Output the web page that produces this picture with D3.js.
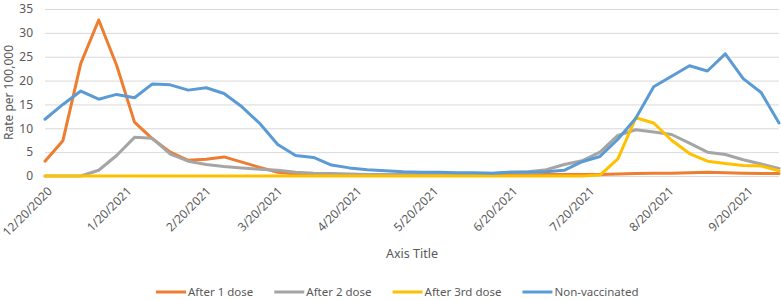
<!DOCTYPE html>
<html>
<head>
<meta charset="utf-8">
<script src="https://cdn.jsdelivr.net/npm/d3@7"></script>
<style>
  body { margin: 0; background: #fff; }
  text { font-family: "Noto Sans", "Open Sans", sans-serif; fill: #595959; }
</style>
</head>
<body>
<div id="chart"></div>
<script>
// Data ----------------------------------------------------------------------------------------------------------------
const startDate = "12/20/2020";
const weekCount = 42;

const afterOneDose = [3.1, 7.4, 23.6, 32.7, 23.2, 11.3, 7.8, 5.0, 3.3, 3.5, 4.0, 2.9, 1.8, 0.8, 0.4, 0.3,
  0.3, 0.2, 0.2, 0.2, 0.2, 0.2, 0.2, 0.2, 0.2, 0.2, 0.2, 0.2, 0.3, 0.3, 0.3, 0.3,
  0.4, 0.5, 0.6, 0.6, 0.7, 0.8, 0.7, 0.6, 0.5, 0.5];
const afterTwoDose = [0, 0, 0, 1.2, 4.3, 8.1, 7.9, 4.6, 3.1, 2.4, 2.0, 1.7, 1.4, 1.2, 0.8, 0.6,
  0.5, 0.4, 0.3, 0.3, 0.3, 0.3, 0.3, 0.3, 0.4, 0.5, 0.8, 0.9, 1.3, 2.4, 3.2, 5.0,
  8.5, 9.7, 9.2, 8.7, 6.9, 5.0, 4.5, 3.4, 2.5, 1.6];
const afterThirdDose = [0, 0, 0, 0, 0, 0, 0, 0, 0, 0, 0, 0, 0, 0, 0, 0,
  0, 0, 0, 0, 0, 0, 0, 0, 0, 0, 0, 0, 0, 0, 0, 0.2,
  3.6, 12.2, 11.1, 7.5, 4.7, 3.1, 2.6, 2.2, 2.1, 1.1];
const nonVaccinated = [11.9, 15.0, 17.8, 16.1, 17.1, 16.4, 19.3, 19.1, 18.0, 18.5, 17.3, 14.5, 11.0, 6.6, 4.3, 3.9,
  2.3, 1.7, 1.3, 1.1, 0.9, 0.8, 0.8, 0.7, 0.7, 0.6, 0.8, 0.8, 0.9, 1.2, 3.0, 4.1,
  7.7, 12.1, 18.7, 20.9, 23.1, 22.0, 25.6, 20.4, 17.5, 11.1];

const seriesNames = ["After 1 dose", "After 2 dose", "After 3rd dose", "Non-vaccinated"];
const seriesColors = ["#ED7D31", "#A5A5A5", "#FFC000", "#5B9BD5"];
const tickLabels = ["12/20/2020", "1/20/2021", "2/20/2021", "3/20/2021", "4/20/2021",
  "5/20/2021", "6/20/2021", "7/20/2021", "8/20/2021", "9/20/2021"];
const yTicks = [0, 5, 10, 15, 20, 25, 30, 35];

// Canvas --------------------------------------------------------------------------------------------------------------
const canvasWidth = 781;
const canvasHeight = 300;
const leftPadding = 45;
const rightPadding = 2;
const topPadding = 9;
const plotBottom = 176;

const parseDate = d3.timeParse("%m/%d/%Y");
const firstDate = parseDate(startDate);
const dates = d3.range(weekCount).map(i => d3.timeDay.offset(firstDate, 7 * i));
const allSeries = [afterOneDose, afterTwoDose, afterThirdDose, nonVaccinated];

const svg = d3.select("#chart")
  .append("svg")
  .attr("width", canvasWidth)
  .attr("height", canvasHeight);

const xScale = d3.scaleTime()
  .domain(d3.extent(dates))
  .range([leftPadding, canvasWidth - rightPadding]);
const yScale = d3.scaleLinear()
  .domain([0, 35])
  .range([plotBottom, topPadding]);

// Grid and y axis
const yAxis = svg.append("g")
  .attr("transform", "translate(" + leftPadding + ",0)")
  .call(d3.axisLeft(yScale).tickValues(yTicks).tickSize(-(canvasWidth - leftPadding - rightPadding)).tickPadding(12));
yAxis.select(".domain").remove();
yAxis.selectAll("line").style("stroke", "#D9D9D9").style("stroke-width", 1);
yAxis.selectAll("text").style("font-size", "12px").style("fill", "#595959");

svg.append("text")
  .text("Rate per 100,000")
  .attr("transform", "translate(13," + ((plotBottom + topPadding) / 2) + ") rotate(-90)")
  .style("text-anchor", "middle")
  .style("font-size", "12px");

// x tick labels (rotated)
svg.append("g")
  .selectAll("text")
  .data(tickLabels)
  .join("text")
  .text(d => d)
  .attr("transform", d => "translate(" + (xScale(parseDate(d)) + 5) + "," + (plotBottom + 13) + ") rotate(-45)")
  .attr("dy", "0.35em")
  .style("text-anchor", "end")
  .style("font-size", "12px");

svg.append("text")
  .text("Axis Title")
  .attr("x", (leftPadding + canvasWidth) / 2 - 1)
  .attr("y", 258)
  .style("text-anchor", "middle")
  .style("font-size", "12.5px");

// Lines
const line = d3.line()
  .x((d, i) => xScale(dates[i]))
  .y(d => yScale(d));

svg.append("g")
  .selectAll("path")
  .data(allSeries)
  .join("path")
  .attr("d", d => line(d))
  .style("fill", "none")
  .style("stroke", (d, i) => seriesColors[i])
  .style("stroke-width", 3)
  .style("stroke-linejoin", "round")
  .style("stroke-linecap", "round");

// Legend
const legendGroup = svg.append("g").attr("transform", "translate(156,292)");
let legendX = 0;
seriesNames.forEach(function(name, i) {
  const item = legendGroup.append("g").attr("transform", "translate(" + legendX + ",0)");
  item.append("line")
    .attr("x1", 0).attr("x2", 30)
    .attr("y1", 0).attr("y2", 0)
    .style("stroke", seriesColors[i])
    .style("stroke-width", 3);
  const label = item.append("text")
    .text(name)
    .attr("x", 32)
    .attr("y", 0)
    .attr("dy", "0.35em")
    .style("font-size", "11.5px");
  legendX += 32 + label.node().getComputedTextLength() + 21;
});
</script>
</body>
</html>
